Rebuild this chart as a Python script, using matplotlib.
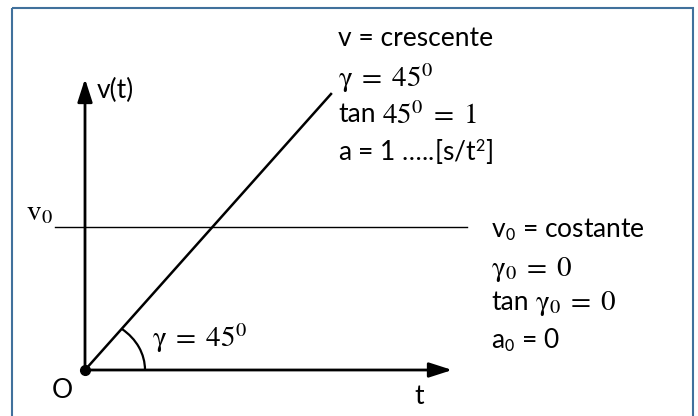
import matplotlib
matplotlib.use('Agg')
import matplotlib.pyplot as plt
from matplotlib.patches import Arc, Rectangle

plt.rcParams['font.family'] = ['Lato', 'DejaVu Sans']
plt.rcParams['mathtext.fontset'] = 'stix'

# diagram geometry (pixel space of the 698x416 picture, y downwards)
origin = (85, 370)
v_axis_top = (85, 76)
t_axis_end = (455, 370)
ramp_end = (331, 94)
v0_line_x = [55, 467]
v0_line_y = [227, 227]
arc_size = (120, 104)
arc_angles = (0, 48)

# text blocks: (plain prefix, math part)
top_labels = [('v = crescente', ''), ('', r'$\mathrm{\gamma}\; =\; 45^0$'),
              ('tan', r'$45^0\; =\; 1$'), ('a = 1 …..[s/t$^\mathsf{2}$]', '')]
top_y = [38, 78, 115, 152]
side_labels = [(r'v$_\mathsf{0}$ = costante', ''), ('', r'$\mathrm{\gamma}_0\; =\; 0$'),
               ('tan', r'$\mathrm{\gamma}_0\; =\; 0$'), (r'a$_\mathsf{0}$ = 0', '')]
side_y = [230, 270, 303, 340]

fig = plt.figure(figsize=(6.98, 4.16), dpi=100)
ax = fig.add_axes([0, 0, 1, 1])
ax.set_xlim(0, 698)
ax.set_ylim(416, 0)
ax.axis('off')

# frame
ax.add_patch(Rectangle((12, 8), 681, 420, fill=False, edgecolor='#41719c', linewidth=1.5))

# axes with arrows
ax.annotate('', xy=v_axis_top, xytext=origin,
            arrowprops=dict(arrowstyle='-|>,head_length=1.4,head_width=0.45', color='black', lw=2))
ax.annotate('', xy=t_axis_end, xytext=origin,
            arrowprops=dict(arrowstyle='-|>,head_length=1.4,head_width=0.45', color='black', lw=2))

# ramp and constant line
ax.plot([origin[0], ramp_end[0]], [origin[1], ramp_end[1]], color='black', lw=1.8)
ax.plot(v0_line_x, v0_line_y, color='black', lw=1)

# angle arc and origin dot
ax.add_patch(Arc(origin, arc_size[0], arc_size[1], theta1=-arc_angles[1], theta2=arc_angles[0],
                 color='black', lw=1.6))
ax.plot(*origin, 'o', color='black', markersize=7)

fs = 19
ms = 21
ax.text(97, 90, 'v(t)', fontsize=fs, va='center', ha='left')
ax.text(26, 213, r'$\mathrm{v}_0$', fontsize=ms, va='center', ha='left')
ax.text(52, 391, 'O', fontsize=fs, va='center', ha='left')
ax.text(414, 396, 't', fontsize=fs, va='center', ha='left')
ax.text(152, 338, r'$\mathrm{\gamma}\; =\; 45^0$', fontsize=ms, va='center', ha='left')


def put_lines(x0, labels, ys, math_dx):
    for (plain, math), y in zip(labels, ys):
        if plain:
            ax.text(x0, y, plain, fontsize=fs, va='center', ha='left')
        if math:
            ax.text(x0 + (math_dx if plain else 0), y, math, fontsize=ms, va='center', ha='left')


put_lines(338, top_labels, top_y, 44)
put_lines(491, side_labels, side_y, 44)

fig.savefig('out.png', dpi=100)
